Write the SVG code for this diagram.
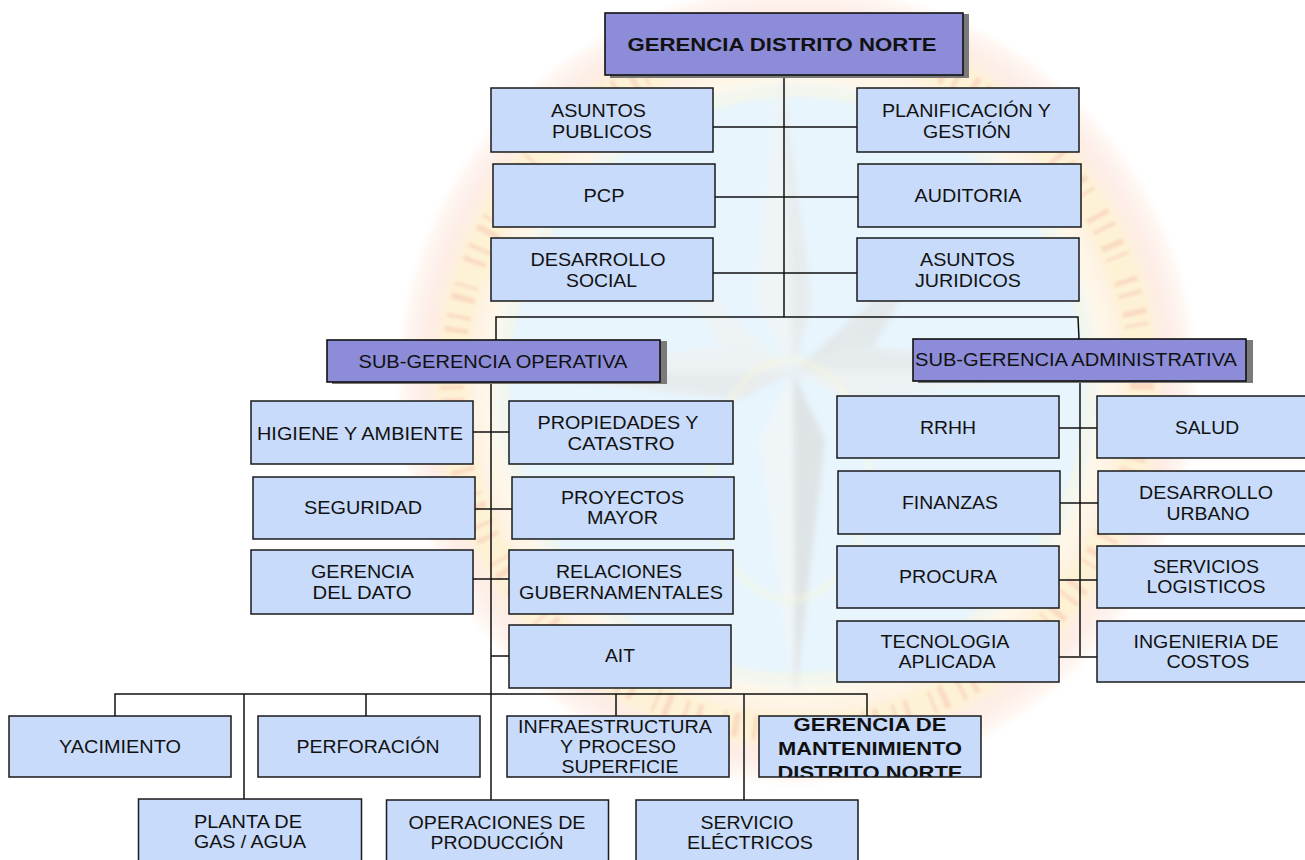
<svg xmlns="http://www.w3.org/2000/svg" width="1305" height="860" viewBox="0 0 1305 860">
<style>
.b{fill:#c8dbfa;stroke:#1a1a1a;stroke-width:1.5}
.s{fill:#8c8cd8;stroke:#111;stroke-width:1.6}
.sh{fill:#7a7a7a}
.o{fill:none;stroke:#1a1a1a;stroke-width:1.5}
.t{font-family:"Liberation Sans",Arial,sans-serif;font-size:18px;fill:#111;text-anchor:middle}
.tb{font-weight:bold;font-size:19px}
.c{stroke:#111;stroke-width:1.5;fill:none}
</style>
<defs>
<filter id="bl" x="-10%" y="-10%" width="120%" height="120%"><feGaussianBlur stdDeviation="3"/></filter>
<filter id="bl1" x="-10%" y="-10%" width="120%" height="120%"><feGaussianBlur stdDeviation="1.800"/></filter>
<radialGradient id="ring" gradientUnits="userSpaceOnUse" cx="797" cy="385" r="400">
<stop offset="0" stop-color="#e8f5fd"/>
<stop offset="0.72" stop-color="#e8f5fd"/>
<stop offset="0.77" stop-color="#fff8e8"/>
<stop offset="0.84" stop-color="#fdeee2"/>
<stop offset="0.93" stop-color="#fdece4"/>
<stop offset="1" stop-color="#fffaf7"/>
</radialGradient>
<clipPath id="mc"><rect x="759" y="716" width="222" height="61"/></clipPath>
</defs>
<rect width="1305" height="860" fill="#fff"/>
<g id="watermark">
<circle cx="797" cy="385" r="398" fill="url(#ring)" filter="url(#bl)"/>
<circle cx="797" cy="385" r="345" fill="none" stroke="#fff6c8" stroke-width="34" opacity="0.5" filter="url(#bl)"/>
<circle cx="797" cy="385" r="345" fill="none" stroke="#f2b9a6" stroke-width="24" stroke-dasharray="5 9 4 14 6 8 3 22" opacity="0.4" filter="url(#bl1)"/>
<circle cx="797" cy="385" r="292" fill="none" stroke="#fff8cc" stroke-width="4" opacity="0.6" filter="url(#bl)"/>
<g filter="url(#bl)" opacity="0.6">
<polygon points="793,372 780,60 755,300" fill="#f4f4f2"/>
<polygon points="793,372 780,60 812,300" fill="#e6e6e4"/>
<polygon points="793,372 660,250 740,345" fill="#dedede"/>
<polygon points="793,372 660,250 745,385" fill="#f2f2f0"/>
<polygon points="793,372 930,250 850,345" fill="#f2f2f0"/>
<polygon points="793,372 930,250 845,395" fill="#e0e0de"/>
<polygon points="793,372 795,700 760,440" fill="#f6f6f4"/>
<polygon points="793,372 795,700 825,440" fill="#d8d8d6"/>
<polygon points="793,372 490,372 740,345" fill="#f0f0ee"/>
<polygon points="793,372 490,372 740,400" fill="#e6e6e4"/>
<polygon points="793,372 1100,372 850,345" fill="#e6e6e4"/>
<polygon points="793,372 1100,372 850,400" fill="#f0f0ee"/>
</g>
<path d="M790 372V700" stroke="#fbfbf4" stroke-width="6" filter="url(#bl)"/>
<ellipse cx="790" cy="480" rx="80" ry="120" fill="none" stroke="#f8f8d8" stroke-width="3" filter="url(#bl)"/>
</g>
<g id="connectors" class="c">
<path class="c" d="M784 75V317M713 127H857M715 197H858M713 273H857M496 340V317H1078L1079 339"/>
<path class="c" d="M491 382V801M473 432H509M475 509H512M473 579H509M491 656H509"/>
<path class="c" d="M1080 381V656M1059 428H1097M1060 503H1098M1059 580H1097M1059 657H1097"/>
<path class="c" d="M115 716V694H867V716M244 694V799M366 694V716M616 694V716M744 694V800"/>
</g>
<g id="n-gerencia"><rect class="sh" x="610" y="14" width="359" height="64"/><rect class="s" x="605" y="13" width="358" height="62"/><text class="t tb" x="782" y="50.500" textLength="309" lengthAdjust="spacingAndGlyphs">GERENCIA DISTRITO NORTE</text></g>
<g id="n-asuntos-publicos"><rect class="b" x="491" y="88" width="222" height="64"/><text class="t" x="598.500" y="117" textLength="95" lengthAdjust="spacingAndGlyphs">ASUNTOS</text><text class="t" x="602" y="138" textLength="100" lengthAdjust="spacingAndGlyphs">PUBLICOS</text></g>
<g id="n-planificacion"><rect class="b" x="857" y="88" width="222" height="64"/><text class="t" x="966.500" y="117" textLength="169" lengthAdjust="spacingAndGlyphs">PLANIFICACIÓN Y</text><text class="t" x="967" y="138" textLength="88" lengthAdjust="spacingAndGlyphs">GESTIÓN</text></g>
<g id="n-pcp"><rect class="b" x="493" y="164" width="222" height="63"/><text class="t" x="604" y="202" textLength="41" lengthAdjust="spacingAndGlyphs">PCP</text></g>
<g id="n-auditoria"><rect class="b" x="858" y="164" width="223" height="63"/><text class="t" x="968" y="202" textLength="107" lengthAdjust="spacingAndGlyphs">AUDITORIA</text></g>
<g id="n-desarrollo-social"><rect class="b" x="491" y="238" width="222" height="63"/><text class="t" x="598" y="266" textLength="135" lengthAdjust="spacingAndGlyphs">DESARROLLO</text><text class="t" x="601.500" y="287" textLength="71" lengthAdjust="spacingAndGlyphs">SOCIAL</text></g>
<g id="n-asuntos-juridicos"><rect class="b" x="857" y="238" width="222" height="63"/><text class="t" x="967.500" y="266" textLength="95" lengthAdjust="spacingAndGlyphs">ASUNTOS</text><text class="t" x="968" y="287" textLength="106" lengthAdjust="spacingAndGlyphs">JURIDICOS</text></g>
<g id="n-sub-operativa"><rect class="sh" x="332" y="341" width="335" height="43"/><rect class="s" x="327" y="340" width="333" height="42"/><text class="t" x="493" y="368" textLength="269" lengthAdjust="spacingAndGlyphs">SUB-GERENCIA OPERATIVA</text></g>
<g id="n-sub-administrativa"><rect class="sh" x="918" y="340" width="335" height="43"/><rect class="s" x="913" y="339" width="333" height="42"/><text class="t" x="1076" y="366" textLength="322" lengthAdjust="spacingAndGlyphs">SUB-GERENCIA ADMINISTRATIVA</text></g>
<g id="n-higiene"><rect class="b" x="251" y="401" width="222" height="63"/><text class="t" x="360" y="440" textLength="206" lengthAdjust="spacingAndGlyphs">HIGIENE Y AMBIENTE</text></g>
<g id="n-propiedades"><rect class="b" x="509" y="401" width="224" height="63"/><text class="t" x="618" y="429" textLength="161" lengthAdjust="spacingAndGlyphs">PROPIEDADES Y</text><text class="t" x="621" y="450" textLength="107" lengthAdjust="spacingAndGlyphs">CATASTRO</text></g>
<g id="n-seguridad"><rect class="b" x="253" y="477" width="222" height="62"/><text class="t" x="363" y="514" textLength="118" lengthAdjust="spacingAndGlyphs">SEGURIDAD</text></g>
<g id="n-proyectos"><rect class="b" x="512" y="477" width="222" height="62"/><text class="t" x="622.500" y="504" textLength="123" lengthAdjust="spacingAndGlyphs">PROYECTOS</text><text class="t" x="622.500" y="524" textLength="71" lengthAdjust="spacingAndGlyphs">MAYOR</text></g>
<g id="n-dato"><rect class="b" x="251" y="550" width="222" height="64"/><text class="t" x="362.500" y="578" textLength="103" lengthAdjust="spacingAndGlyphs">GERENCIA</text><text class="t" x="362" y="599" textLength="99" lengthAdjust="spacingAndGlyphs">DEL DATO</text></g>
<g id="n-relaciones"><rect class="b" x="509" y="550" width="224" height="64"/><text class="t" x="619" y="578" textLength="126" lengthAdjust="spacingAndGlyphs">RELACIONES</text><text class="t" x="621" y="599" textLength="204" lengthAdjust="spacingAndGlyphs">GUBERNAMENTALES</text></g>
<g id="n-ait"><rect class="b" x="509" y="625" width="222" height="63"/><text class="t" x="620" y="662" textLength="30" lengthAdjust="spacingAndGlyphs">AIT</text></g>
<g id="n-rrhh"><rect class="b" x="837" y="396" width="222" height="62"/><text class="t" x="948" y="434" textLength="56" lengthAdjust="spacingAndGlyphs">RRHH</text></g>
<g id="n-salud"><rect class="b" x="1097" y="396" width="222" height="62"/><text class="t" x="1207" y="434" textLength="64" lengthAdjust="spacingAndGlyphs">SALUD</text></g>
<g id="n-finanzas"><rect class="b" x="838" y="471" width="222" height="63"/><text class="t" x="950" y="509" textLength="96" lengthAdjust="spacingAndGlyphs">FINANZAS</text></g>
<g id="n-desarrollo-urbano"><rect class="b" x="1098" y="471" width="222" height="63"/><text class="t" x="1206" y="499" textLength="134" lengthAdjust="spacingAndGlyphs">DESARROLLO</text><text class="t" x="1208" y="520" textLength="83" lengthAdjust="spacingAndGlyphs">URBANO</text></g>
<g id="n-procura"><rect class="b" x="837" y="546" width="222" height="62"/><text class="t" x="948" y="583" textLength="98" lengthAdjust="spacingAndGlyphs">PROCURA</text></g>
<g id="n-servicios"><rect class="b" x="1097" y="546" width="222" height="62"/><text class="t" x="1206" y="573" textLength="106" lengthAdjust="spacingAndGlyphs">SERVICIOS</text><text class="t" x="1206" y="593" textLength="119" lengthAdjust="spacingAndGlyphs">LOGISTICOS</text></g>
<g id="n-tecnologia"><rect class="b" x="837" y="621" width="222" height="61"/><text class="t" x="945" y="648" textLength="129" lengthAdjust="spacingAndGlyphs">TECNOLOGIA</text><text class="t" x="947" y="668" textLength="97" lengthAdjust="spacingAndGlyphs">APLICADA</text></g>
<g id="n-ingenieria"><rect class="b" x="1097" y="621" width="222" height="61"/><text class="t" x="1206" y="648" textLength="145" lengthAdjust="spacingAndGlyphs">INGENIERIA DE</text><text class="t" x="1208" y="668" textLength="83" lengthAdjust="spacingAndGlyphs">COSTOS</text></g>
<g id="n-yacimiento"><rect class="b" x="9" y="716" width="222" height="61"/><text class="t" x="120" y="753" textLength="122" lengthAdjust="spacingAndGlyphs">YACIMIENTO</text></g>
<g id="n-perforacion"><rect class="b" x="258" y="716" width="222" height="61"/><text class="t" x="368" y="753" textLength="143" lengthAdjust="spacingAndGlyphs">PERFORACIÓN</text></g>
<g id="n-infra"><rect class="b" x="507" y="716" width="222" height="61"/><text class="t" x="615" y="733" textLength="194" lengthAdjust="spacingAndGlyphs">INFRAESTRUCTURA</text><text class="t" x="618" y="753" textLength="116" lengthAdjust="spacingAndGlyphs">Y PROCESO</text><text class="t" x="620" y="773" textLength="117" lengthAdjust="spacingAndGlyphs">SUPERFICIE</text></g>
<g id="n-mantenimiento"><rect x="759" y="716" width="222" height="61" fill="#c8dbfa"/><g clip-path="url(#mc)"><text class="t tb" x="870" y="731" textLength="153" lengthAdjust="spacingAndGlyphs">GERENCIA DE</text><text class="t tb" x="870" y="755" textLength="184" lengthAdjust="spacingAndGlyphs">MANTENIMIENTO</text><text class="t tb" x="870" y="779" textLength="185" lengthAdjust="spacingAndGlyphs">DISTRITO NORTE</text></g><rect class="o" x="759" y="716" width="222" height="61"/></g>
<g id="n-planta"><rect class="b" x="138.500" y="799" width="223" height="70"/><text class="t" x="248" y="828" textLength="108" lengthAdjust="spacingAndGlyphs">PLANTA DE</text><text class="t" x="250" y="848" textLength="112" lengthAdjust="spacingAndGlyphs">GAS / AGUA</text></g>
<g id="n-operaciones"><rect class="b" x="386.500" y="800" width="222" height="70"/><text class="t" x="497" y="829" textLength="177" lengthAdjust="spacingAndGlyphs">OPERACIONES DE</text><text class="t" x="497" y="849" textLength="133" lengthAdjust="spacingAndGlyphs">PRODUCCIÓN</text></g>
<g id="n-servicio"><rect class="b" x="636" y="800" width="222" height="70"/><text class="t" x="747" y="829" textLength="93" lengthAdjust="spacingAndGlyphs">SERVICIO</text><text class="t" x="750" y="849" textLength="126" lengthAdjust="spacingAndGlyphs">ELÉCTRICOS</text></g>
</svg>
